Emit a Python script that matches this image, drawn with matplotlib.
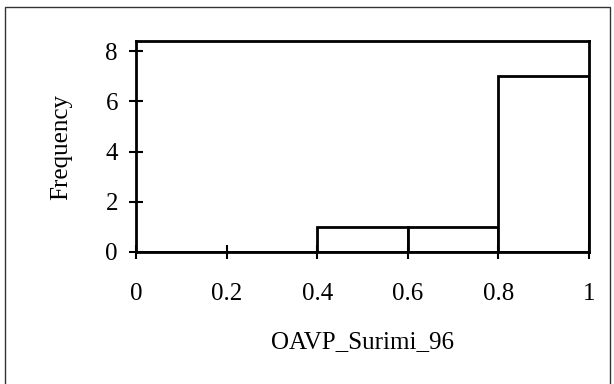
import matplotlib
matplotlib.use("Agg")
import matplotlib.pyplot as plt
from matplotlib.patches import Rectangle

# Histogram of OAVP_Surimi_96
bin_edges = [0.0, 0.2, 0.4, 0.6, 0.8, 1.0]
frequencies = [0, 0, 1, 1, 7]
x_ticks = [0, 0.2, 0.4, 0.6, 0.8, 1]
x_tick_labels = ["0", "0.2", "0.4", "0.6", "0.8", "1"]
y_ticks = [0, 2, 4, 6, 8]

plt.rcParams["font.family"] = ["Liberation Serif", "DejaVu Serif"]

fig = plt.figure(figsize=(6.14, 3.84), dpi=100)
fig.patches.append(Rectangle((5 / 614, -0.05), 605 / 614, 1 - 7 / 384 + 0.05,
                             transform=fig.transFigure, fill=False,
                             edgecolor="#333333", linewidth=1.0))

ax = fig.add_axes([136 / 614, 1 - 252 / 384, (589 - 136) / 614, (252 - 41) / 384])

lefts = bin_edges[:-1]
widths = [b - a for a, b in zip(bin_edges[:-1], bin_edges[1:])]
ax.bar(lefts, frequencies, width=widths, align="edge", facecolor="white",
       edgecolor="black", linewidth=2.0)

ax.set_xlim(0, 1)
ax.set_ylim(0, 8.4)
ax.set_xticks(x_ticks)
ax.set_xticklabels(x_tick_labels)
ax.set_yticks(y_ticks)
for s in ax.spines.values():
    s.set_linewidth(2.0)
ax.tick_params(axis="both", direction="inout", length=10, width=1.5,
               labelsize=18, colors="black")
ax.tick_params(axis="x", pad=17)
ax.tick_params(axis="y", pad=8)

ax.set_xlabel("OAVP_Surimi_96", fontsize=18, labelpad=19)
ax.set_ylabel("Frequency", fontsize=18, labelpad=24)

fig.savefig("out.png", dpi=100)
